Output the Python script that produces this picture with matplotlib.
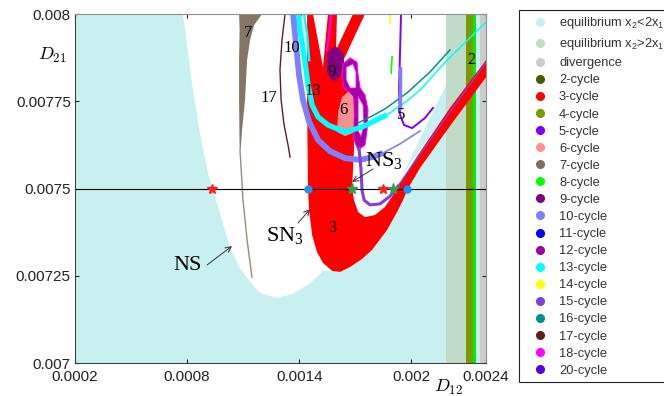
import matplotlib.pyplot as plt
from matplotlib.lines import Line2D

plt.rcParams['font.family'] = ['Liberation Sans', 'DejaVu Sans']
plt.rcParams['mathtext.fontset'] = 'cm'
plt.rcParams['mathtext.default'] = 'regular'

# --- regions (D12, D21) ---

# white area right of the NS curve
ns_d12 = [0.000778, 0.000826, 0.000869, 0.000912, 0.000939, 0.000987, 0.001030, 0.001083,
          0.001137, 0.001190, 0.001281, 0.001367, 0.001458, 0.001527, 0.001576, 0.001619,
          0.001672, 0.001736, 0.001790, 0.001870, 0.001924, 0.001956, 0.001982, 0.002047,
          0.002186, 0.002186]
ns_d21 = [0.008, 0.007802, 0.007659, 0.007544, 0.007496, 0.007410, 0.007330, 0.007272,
          0.007232, 0.007201, 0.007186, 0.007198, 0.007229, 0.007264, 0.007264, 0.007261,
          0.007275, 0.007298, 0.007324, 0.007381, 0.007433, 0.007467, 0.0075, 0.007559,
          0.007662, 0.008]

# cyan wedge above the 3-cycle band
wedge_d12 = [0.001950, 0.002186, 0.002186, 0.002047]
wedge_d21 = [0.007536, 0.007797, 0.007711, 0.007610]

# vertical strips on the right
eq_hi_band = (0.002186, 0.002293)
cyc4_band = (0.002293, 0.002330)
cyc8_band = (0.002330, 0.002344)
div_band = (0.002368, 0.0024)

# 7-cycle tongue and its thin tail
c7_d12 = [0.001078, 0.001201, 0.001158, 0.001137, 0.001121, 0.001110, 0.001094, 0.001086,
          0.001081, 0.001078, 0.001078, 0.001081]
c7_d21 = [0.008, 0.008, 0.007968, 0.007926, 0.007868, 0.007754, 0.007668, 0.007610,
          0.007610, 0.007754, 0.007868, 0.007954]
c7_tail_d12 = [0.001083, 0.001099, 0.001121, 0.001147]
c7_tail_d21 = [0.007610, 0.007467, 0.007352, 0.007246]

# 3-cycle region (tongue + band)
c3_d12 = [0.001442, 0.001752, 0.001645, 0.001629, 0.001672, 0.001693, 0.001693, 0.001683,
          0.001693, 0.001715, 0.001752, 0.001806, 0.001859, 0.001902, 0.001929, 0.002047,
          0.002207, 0.0024, 0.0024, 0.002207, 0.002047, 0.001982, 0.001956, 0.001924,
          0.001870, 0.001790, 0.001736, 0.001672, 0.001619, 0.001576, 0.001527, 0.001495,
          0.001469, 0.001453, 0.001447, 0.001442]
c3_d21 = [0.008, 0.008, 0.007877, 0.007862, 0.007782, 0.007754, 0.007610, 0.0075,
          0.007467, 0.007433, 0.007418, 0.007424, 0.007447, 0.007481, 0.007507, 0.007605,
          0.007731, 0.007868, 0.007819, 0.007679, 0.007559, 0.0075, 0.007467, 0.007433,
          0.007381, 0.007324, 0.007298, 0.007275, 0.007261, 0.007264, 0.007287, 0.007318,
          0.007367, 0.007438, 0.0075, 0.007754]

# white gaps inside the top of the 3-cycle tongue
gap1_d12 = [0.001474, 0.001554, 0.001527]
gap1_d21 = [0.008, 0.008, 0.007848]
gap2_d12 = [0.001602, 0.001688, 0.001597]
gap2_d21 = [0.008, 0.008, 0.007897]

c9_d12 = [0.001549, 0.001592, 0.001635, 0.001640, 0.001619, 0.001581, 0.001549]
c9_d21 = [0.007891, 0.007908, 0.007891, 0.007862, 0.007822, 0.007805, 0.007834]

c12_d12 = [0.001635, 0.001672, 0.001709, 0.001715, 0.001726, 0.001752, 0.001768, 0.001763,
           0.001752, 0.001715, 0.001693, 0.001693, 0.001672, 0.001640, 0.001629]
c12_d21 = [0.007857, 0.007874, 0.007862, 0.007825, 0.007788, 0.007768, 0.007725, 0.007668,
           0.007625, 0.007610, 0.007639, 0.007754, 0.007774, 0.007788, 0.007822]
c12_hole_d12 = [0.001651, 0.001688, 0.001704, 0.001704, 0.001672, 0.001651]
c12_hole_d21 = [0.007848, 0.007857, 0.007834, 0.007788, 0.007788, 0.007811]
c12_hole2_d12 = [0.001715, 0.001742, 0.001747, 0.001731, 0.001715]
c12_hole2_d21 = [0.007765, 0.007739, 0.007682, 0.007648, 0.007665]

c6_d12 = [0.001602, 0.001608, 0.001629, 0.001661, 0.001688, 0.001693, 0.001688, 0.001645]
c6_d21 = [0.007662, 0.007719, 0.007762, 0.007777, 0.007765, 0.007711, 0.007659, 0.007650]

c20_d12 = [0.001356, 0.001415, 0.001399, 0.001372]
c20_d21 = [0.008, 0.008, 0.007966, 0.007954]

# curves
c17_d12 = [0.001324, 0.001308, 0.001297, 0.001303, 0.001319, 0.001340, 0.001351]
c17_d21 = [0.008, 0.007926, 0.007840, 0.007754, 0.007682, 0.007625, 0.007590]

c10_d12 = [0.001367, 0.001383, 0.001399, 0.001420, 0.001453, 0.001501, 0.001565, 0.001645,
           0.001726, 0.001790, 0.001849]
c10_d21 = [0.008, 0.007911, 0.007825, 0.007754, 0.007691, 0.007639, 0.007607, 0.007587,
           0.007582, 0.007590, 0.007602]
c10_thin_d12 = [0.001849, 0.001940, 0.002047]
c10_thin_d21 = [0.007602, 0.007628, 0.007665]
c10_seg_d12 = [0.001940, 0.001940]
c10_seg_d21 = [0.007845, 0.007731]

c13_d12 = [0.001394, 0.001404, 0.001431, 0.001447, 0.001469, 0.001501, 0.001554, 0.001645,
           0.001736, 0.001822, 0.001870]
c13_d21 = [0.008, 0.007957, 0.007862, 0.007797, 0.007739, 0.007705, 0.007682, 0.007662,
           0.007676, 0.007699, 0.007711]
c13_thin_d12 = [0.001870, 0.001977, 0.002047, 0.002181, 0.0024]
c13_thin_d21 = [0.007711, 0.007751, 0.007782, 0.007862, 0.007977]
c13_strand_d12 = [0.001426, 0.001442, 0.001453]
c13_strand_d21 = [0.008, 0.007940, 0.007868]

c16_d12 = [0.001715, 0.001790, 0.001859, 0.001977, 0.002100, 0.002207]
c16_d21 = [0.007688, 0.007708, 0.007728, 0.007774, 0.007834, 0.007897]

c5_d12 = [0.001945, 0.001940, 0.001934, 0.001940, 0.001961, 0.002004, 0.002073, 0.002116]
c5_d21 = [0.008, 0.007897, 0.007782, 0.007711, 0.007682, 0.007673, 0.007702, 0.007731]

c15_d12 = [0.001720, 0.001731, 0.001736, 0.001747, 0.001779, 0.001833, 0.001886, 0.001929,
           0.002047, 0.002207, 0.0024]
c15_d21 = [0.007616, 0.007553, 0.007496, 0.007467, 0.007453, 0.007456, 0.007478, 0.007507,
           0.007599, 0.007719, 0.007862]

c18_d12 = [0.001570, 0.001560, 0.001549]
c18_d21 = [0.008, 0.007940, 0.007897]

# short specks near the top
c14_d12 = [0.001886, 0.001886]
c14_d21 = [0.007997, 0.007974]
c8_d12 = [0.001897, 0.001892]
c8_d21 = [0.007877, 0.007831]

# markers on the D21 = 0.0075 line
line_d21 = 0.0075
red_star_d12 = [0.000933, 0.001849]
green_star_d12 = [0.001683, 0.001902]
blue_dot_d12 = [0.001447, 0.001977]

# cycle labels
cycle_labels = ['7', '10', '17', '13', '9', '6', '5', '2', '3']
cycle_label_d12 = [0.001126, 0.001362, 0.001238, 0.001474, 0.001576, 0.001635, 0.001945, 0.002320, 0.001576]
cycle_label_d21 = [0.007946, 0.007903, 0.007759, 0.007779, 0.007834, 0.007725, 0.007711, 0.007868, 0.007387]

legend_labels = ['equilibrium x$_2$<2x$_1$', 'equilibrium x$_2$>2x$_1$', 'divergence',
                 '2-cycle', '3-cycle', '4-cycle', '5-cycle', '6-cycle', '7-cycle', '8-cycle',
                 '9-cycle', '10-cycle', '11-cycle', '12-cycle', '13-cycle', '14-cycle',
                 '15-cycle', '16-cycle', '17-cycle', '18-cycle', '20-cycle']
legend_colors = ['#c8f0f0', '#c0dcc8', '#cccccc', '#4a5a00', '#ff0000', '#789a00', '#8000ff',
                 '#ff9090', '#807060', '#00ff00', '#800080', '#8080ff', '#0000ff', '#a000a0',
                 '#00ffff', '#ffff00', '#8040e0', '#009090', '#602020', '#ff00ff', '#5000e0']

fig = plt.figure(figsize=(6.64, 3.96), dpi=100)
ax = fig.add_axes([0.113, 0.0833, 0.619, 0.8813])
ax.set_facecolor('#c8f0f0')

ax.fill(ns_d12, ns_d21, color='white', lw=0)
ax.fill(wedge_d12, wedge_d21, color='#c8f0f0', lw=0)
ax.axvspan(*eq_hi_band, color='#c0dcc8', lw=0)
ax.axvspan(*cyc4_band, color='#789a00', lw=0)
ax.axvspan(*cyc8_band, color='#00ee00', lw=0)
ax.axvspan(*div_band, color='#cccccc', lw=0)

ax.fill(c7_d12, c7_d21, color='#857565', lw=0)
ax.fill(c3_d12, c3_d21, color='#ff0000', lw=0)
ax.fill(gap1_d12, gap1_d21, color='white', lw=0)
ax.fill(gap2_d12, gap2_d21, color='white', lw=0)
ax.fill(c9_d12, c9_d21, color='#800080', lw=0)
ax.fill(c12_d12, c12_d21, facecolor='#a000a0', edgecolor='#ff00ff', lw=0.8)
ax.fill(c12_hole_d12, c12_hole_d21, facecolor='white', edgecolor='#ff00ff', lw=0.6)
ax.fill(c12_hole2_d12, c12_hole2_d21, facecolor='white', edgecolor='#ff00ff', lw=0.6)
ax.fill(c6_d12, c6_d21, color='#f89090', lw=0)
ax.fill(c20_d12, c20_d21, color='#5000e0', lw=0)

ax.plot(c7_tail_d12, c7_tail_d21, color='#9a8c80', lw=1)
ax.plot(c17_d12, c17_d21, color='#602020', lw=1)
ax.plot(c18_d12, c18_d21, color='#ff00ff', lw=1.5)
ax.plot(c10_d12, c10_d21, color='#8080ff', lw=4.2, solid_capstyle='butt')
ax.plot(c10_thin_d12, c10_thin_d21, color='#8080ff', lw=1.2)
ax.plot(c13_strand_d12, c13_strand_d21, color='#00ffff', lw=1.8)
ax.plot(c13_d12, c13_d21, color='#00ffff', lw=3.8, solid_capstyle='butt')
ax.plot(c13_thin_d12, c13_thin_d21, color='#00ffff', lw=1.1)
ax.plot(c16_d12, c16_d21, color='#009090', lw=1.1)
ax.plot(c5_d12, c5_d21, color='#8000ff', lw=1.4)
ax.plot(c10_seg_d12, c10_seg_d21, color='#8080ff', lw=2.5)
ax.plot(c15_d12[:8], c15_d21[:8], color='#8040e0', lw=2.2)
ax.plot(c15_d12[7:], c15_d21[7:], color='#8040e0', lw=1)
ax.plot(c14_d12, c14_d21, color='#ffff00', lw=1.2)
ax.plot(c8_d12, c8_d21, color='#00ff00', lw=1.2)

ax.axhline(line_d21, color='black', lw=0.8)
ax.plot(red_star_d12, [line_d21] * 2, ls='none', marker='*', ms=7, color='#ff2020')
ax.plot(green_star_d12, [line_d21] * 2, ls='none', marker='*', ms=8, color='#30a050')
ax.plot(blue_dot_d12, [line_d21] * 2, ls='none', marker='o', ms=5, color='#1e90ff')

for lab, x, y in zip(cycle_labels, cycle_label_d12, cycle_label_d21):
    ax.text(x, y, lab, ha='center', va='center', fontsize=12, family='Liberation Serif')

arrow = dict(arrowstyle='->', color='#333333', lw=0.7, shrinkA=0, shrinkB=0)
ax.text(0.000805, 0.007278, 'NS', ha='center', va='center', fontsize=16, family='Liberation Serif')
ax.annotate('', xy=(0.001040, 0.007335), xytext=(0.000907, 0.007281), arrowprops=arrow)
ax.text(0.001324, 0.007364, 'SN$_3$', ha='center', va='center', fontsize=16, family='Liberation Serif')
ax.annotate('', xy=(0.001458, 0.007441), xytext=(0.001394, 0.007401), arrowprops=arrow)
ax.text(0.001854, 0.007579, 'NS$_3$', ha='center', va='center', fontsize=16, family='Liberation Serif')
ax.annotate('', xy=(0.001683, 0.007519), xytext=(0.001795, 0.007556), arrowprops=arrow)

ax.set_xlim(0.0002, 0.0024)
ax.set_ylim(0.007, 0.008)
ax.set_xticks([0.0002, 0.0008, 0.0014, 0.002, 0.0024])
ax.set_xticklabels(['0.0002', '0.0008', '0.0014', '0.002', '0.0024'])
ax.set_yticks([0.007, 0.00725, 0.0075, 0.00775, 0.008])
ax.set_yticklabels(['0.007', '0.00725', '0.0075', '0.00775', '0.008'])
ax.tick_params(direction='in', length=3, top=True, right=True, labelsize=11, colors='#222222')
ax.tick_params(axis='y', pad=3)
ax.tick_params(axis='x', pad=5)
for side in ['left', 'bottom']:
    ax.spines[side].set_color('#404040')
for side in ['top', 'right']:
    ax.spines[side].set_color('#909090')

ax.text(-0.056, 0.885, r'$\mathit{D}_{\mathrm{21}}$', transform=ax.transAxes,
        ha='center', va='center', fontsize=13)
ax.text(0.9075, -0.066, r'$\mathit{D}_{\mathrm{12}}$', transform=ax.transAxes,
        ha='center', va='center', fontsize=13)

handles = [Line2D([], [], ls='none', marker='o', ms=5.5, color=c) for c in legend_colors]
leg = fig.legend(handles, legend_labels, loc='upper left', bbox_to_anchor=(0.7816, 0.9747),
                 borderaxespad=0, fontsize=9.3, labelspacing=0.39, handlelength=2.5,
                 handletextpad=0.2, borderpad=0.4, fancybox=False, framealpha=1,
                 edgecolor='#222222', labelcolor='#333333')
leg.get_frame().set_linewidth(0.8)

fig.savefig('out.png', dpi=100)
